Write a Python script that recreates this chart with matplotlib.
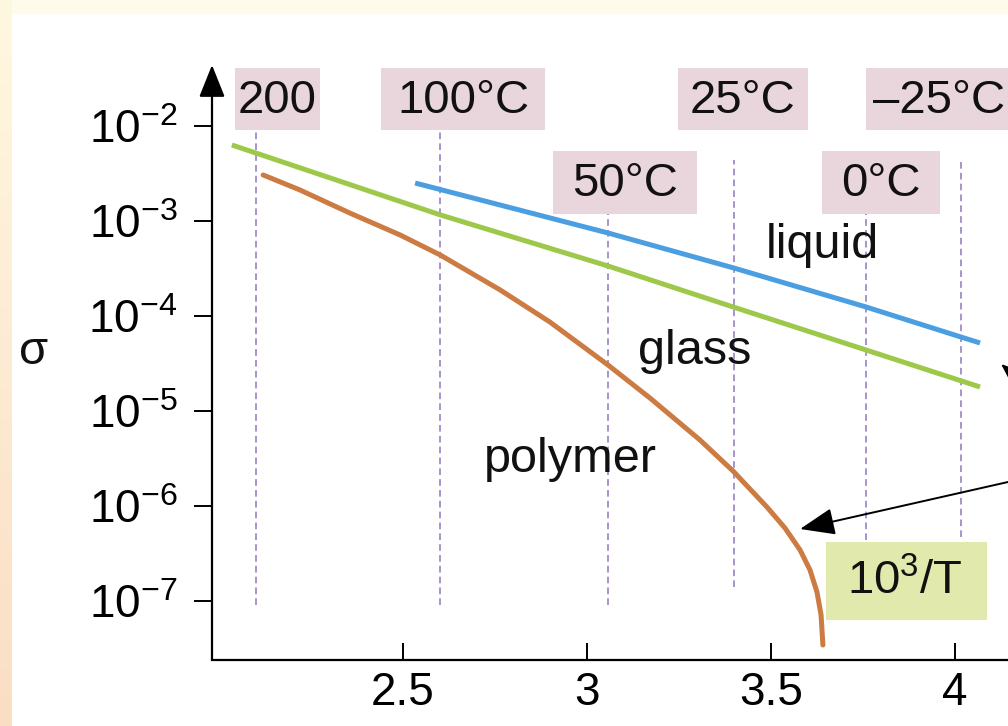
import matplotlib
matplotlib.use('Agg')
import matplotlib.pyplot as plt
from matplotlib.patches import Rectangle
import numpy as np

plt.rcParams['font.family'] = ['Liberation Sans', 'DejaVu Sans']
plt.rcParams['mathtext.fontset'] = 'custom'
plt.rcParams['mathtext.rm'] = 'Liberation Sans'
plt.rcParams['mathtext.it'] = 'Liberation Sans:italic'
plt.rcParams['mathtext.bf'] = 'Liberation Sans:bold'

# values: x = 10^3/T, y = sigma
liquid_x = [2.533, 3.057, 3.399, 3.758, 4.016, 4.068]
liquid_s = [2.51e-3, 7.48e-4, 3.20e-4, 1.245e-4, 6.01e-5, 5.2e-5]

glass_x = [2.035, 2.601, 3.057, 3.397, 3.758, 4.068]
glass_s = [6.31e-3, 1.16e-3, 3.36e-4, 1.245e-4, 4.39e-5, 1.79e-5]

polymer_x = [2.120, 2.220, 2.356, 2.492, 2.601, 2.764, 2.899, 3.057, 3.171,
             3.307, 3.397, 3.489, 3.538, 3.579, 3.606, 3.625, 3.636, 3.641]
polymer_s = [3.05e-3, 2.12e-3, 1.21e-3, 7.13e-4, 4.39e-4, 1.88e-4, 8.65e-5,
             3.05e-5, 1.37e-5, 4.95e-6, 2.33e-6, 9.75e-7, 5.86e-7, 3.44e-7,
             2.12e-7, 1.24e-7, 7.13e-8, 3.44e-8]

temp_labels = ['200', '100°C', '50°C', '25°C', '0°C', '–25°C']
temp_x = [2.1005, 2.601, 3.057, 3.399, 3.758, 4.016]

xticks = [2.5, 3, 3.5, 4]
xtick_labels = ['2.5', '3', '3.5', '4']
yticks = [1e-2, 1e-3, 1e-4, 1e-5, 1e-6, 1e-7]
ytick_labels = [r'$\mathregular{10^{-%d}}$' % k for k in range(2, 8)]

W, H = 1008, 726
fig = plt.figure(figsize=(W / 100, H / 100), dpi=100)
fig.patch.set_facecolor('white')

# slide background bits (cream strip on top, warm gradient on the left)
fig.patches.append(Rectangle((0, 1 - 14 / H), 1, 14 / H, transform=fig.transFigure,
                             facecolor='#fffbea', edgecolor='none', zorder=-5))
bg = fig.add_axes([0, 0, 12 / W, 1])
grad = np.linspace(0, 1, 256)[:, None]
top_c = np.array([255, 248, 224]) / 255
bot_c = np.array([250, 222, 196]) / 255
img = top_c[None, None, :] * (1 - grad[:, :, None]) + bot_c[None, None, :] * grad[:, :, None]
bg.imshow(img, aspect='auto', extent=[0, 1, 0, 1])
bg.axis('off')

ax = fig.add_axes([212 / W, 66 / H, 1 - 212 / W, 1 - 66 / H])
ax.patch.set_visible(False)
ax.set_yscale('log')
ax.set_xlim(1.981, 4.144)
ax.set_ylim(10 ** -7.621, 10 ** -0.674)

# temperature guide lines
tops = [9.08e-3, 9.08e-3, 1.19e-3, 4.39e-3, 1.19e-3, 4.39e-3]
bots = [9.08e-8, 9.08e-8, 9.08e-8, 1.40e-7, 4.39e-7, 4.72e-7]
for x, t, b in zip(temp_x, tops, bots):
    ax.plot([x, x], [b, t], color='#9a80c4', lw=1.2, linestyle=(0, (4, 2.5)), zorder=1)

ax.plot(glass_x, glass_s, color='#9dc84a', lw=3.6, solid_capstyle='butt', zorder=3)
ax.plot(liquid_x, liquid_s, color='#4b9fe1', lw=3.6, solid_capstyle='butt', zorder=3)
ax.plot(polymer_x, polymer_s, color='#cc7b42', lw=3.6, solid_capstyle='round',
        solid_joinstyle='round', zorder=3)

# axes styling
for s in ['top', 'right', 'left']:
    ax.spines[s].set_visible(False)
ax.spines['bottom'].set_linewidth(1.6)
ax.annotate('', xy=(0, (660 - 65) / 660), xytext=(0, 0), xycoords='axes fraction',
            arrowprops=dict(arrowstyle='-|>,head_length=0.8,head_width=0.32',
                            mutation_scale=25, lw=1.6, color='black',
                            shrinkA=0, shrinkB=0))

ax.set_xticks(xticks)
ax.set_xticklabels(xtick_labels)
ax.set_yticks(yticks)
ax.set_yticklabels(ytick_labels)
ax.minorticks_off()
ax.tick_params(axis='x', direction='in', length=12, width=1.4, pad=8, labelsize=33)
ax.tick_params(axis='y', direction='out', length=13, width=1.4, pad=12, labelsize=33)

# arrow pointing at polymer curve
ax.annotate('', xy=(3.579, 10 ** -6.242), xytext=(4.204, 10 ** -5.695),
            annotation_clip=False,
            arrowprops=dict(arrowstyle='-|>,head_length=0.9,head_width=0.35',
                            mutation_scale=24, lw=1.4, color='black',
                            shrinkA=0, shrinkB=0))
# partial arrow cut by the right edge
ax.annotate('', xy=(4.125, 10 ** -4.505), xytext=(4.30, 10 ** -5.1),
            annotation_clip=False,
            arrowprops=dict(arrowstyle='-|>,head_length=0.9,head_width=0.35',
                            mutation_scale=24, lw=1.4, color='black',
                            shrinkA=0, shrinkB=0))


def box(x0, x1, y0, y1, color):
    fig.patches.append(Rectangle((x0 / W, 1 - y1 / H), (x1 - x0) / W, (y1 - y0) / H,
                                 transform=fig.transFigure, facecolor=color,
                                 edgecolor='none', zorder=2))


def label(x, y, s, size=34):
    fig.text(x / W, 1 - y / H, s, ha='center', va='center', fontsize=size,
             color='#111111', zorder=5)


pink = '#e9d5dc'
box_px = [(235, 320, 68, 130), (381, 545, 68, 130), (553, 697, 151, 214),
          (678, 808, 68, 130), (822, 940, 151, 214), (866, 1020, 68, 130)]
centers = [(277, 101), (463, 101), (625, 184), (743, 101), (881, 184), (939, 101)]
for (x0, x1, y0, y1), (cx, cy), t in zip(box_px, centers, temp_labels):
    box(x0, x1, y0, y1, pink)
    label(cx, cy, t)

box(826, 987, 542, 620, '#e2e9ac')
label(905, 582, r'$\mathregular{10^3/T}$')

label(822, 245, 'liquid', 35)
label(695, 352, 'glass', 35)
label(570, 460, 'polymer', 35)
label(34, 352, 'σ', 34)

fig.savefig('out.png', dpi=100)
